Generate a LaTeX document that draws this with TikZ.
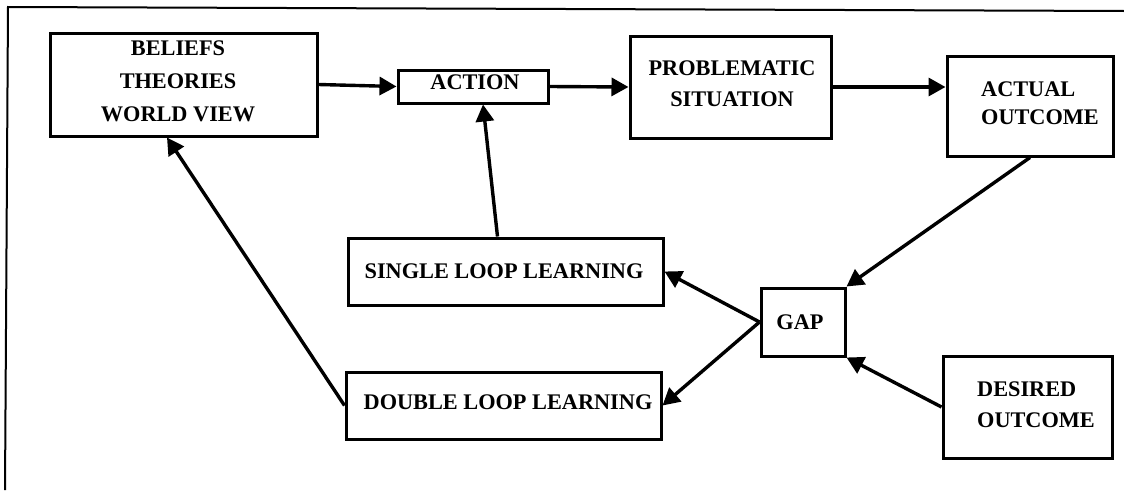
\documentclass[tikz,border=0pt]{standalone}
\usepackage{fontspec}
\setmainfont{Liberation Serif}
\usetikzlibrary{arrows.meta,calc}
\tikzset{
  box/.style={draw, line width=3pt, rectangle, inner sep=0pt},
  lbl/.style={font=\fontsize{22.3}{31}\selectfont\bfseries, inner sep=0pt},
  conn/.style={line width=3.4pt, -{Triangle[length=17pt,width=18pt]}},
  frame/.style={line width=2pt}
}
\begin{document}
\begin{tikzpicture}[x=1pt,y=-1pt]
\useasboundingbox (0,0) rectangle (1124,490);
\fill[white] (0,0) rectangle (1124,490);
% frame
\coordinate (fbl) at (5,490);
\coordinate (ftl) at (8,7);
\coordinate (ftr) at (1124,11);
\draw[frame] (fbl) -- (ftl) -- (ftr);
% boxes
\node[box, minimum width=267pt, minimum height=103pt] (bel) at (183.5,84.5) {};
\node[box, minimum width=150pt, minimum height=33pt] (act) at (473,86.5) {};
\node[box, minimum width=201pt, minimum height=102pt] (prob) at (730.5,87) {};
\node[box, minimum width=166pt, minimum height=100pt] (aout) at (1030,106) {};
\node[box, minimum width=315pt, minimum height=67pt] (sll) at (505.5,271.5) {};
\node[box, minimum width=315pt, minimum height=67pt] (dll) at (503.5,405.5) {};
\node[box, minimum width=84pt, minimum height=68pt] (gap) at (803,322) {};
\node[box, minimum width=169pt, minimum height=102pt] (dout) at (1027.5,407) {};
% texts
\node[lbl, align=center, font=\fontsize{22.3}{33}\selectfont\bfseries] (belt) at (178,81.5) {BELIEFS\\THEORIES\\WORLD VIEW};
\node[lbl] (actt) at (475,82.5) {ACTION};
\node[lbl, align=center] (probt) at (732,84) {PROBLEMATIC\\SITUATION};
\node[lbl, align=left, font=\fontsize{22.3}{28}\selectfont\bfseries] (aoutt) at (1040,103) {ACTUAL\\OUTCOME};
\node[lbl] (sllt) at (504,271) {SINGLE LOOP LEARNING};
\node[lbl] (dllt) at (508,402) {DOUBLE LOOP LEARNING};
\node[lbl] (gapt) at (800,322) {GAP};
\node[lbl, align=left] (doutt) at (1036,404.5) {DESIRED\\OUTCOME};
% connectors
\draw[conn] (bel.east) -- (act.west);
\draw[conn] (act.east) -- (prob.west);
\draw[conn] (prob.east) -- (prob.east -| aout.west);
\draw[conn] ($(sll.north)+(-8,0)$) -- ($(act.south)+(10,0)$);
\draw[conn] (dll.west) -- ($(bel.south)+(-16.5,0)$);
\draw[conn] (aout.south) -- (gap.north east);
\draw[conn] (gap.west) -- (sll.east);
\draw[conn] (gap.west) -- (dll.east);
\draw[conn] (dout.west) -- (gap.south east);
\end{tikzpicture}
\end{document}
